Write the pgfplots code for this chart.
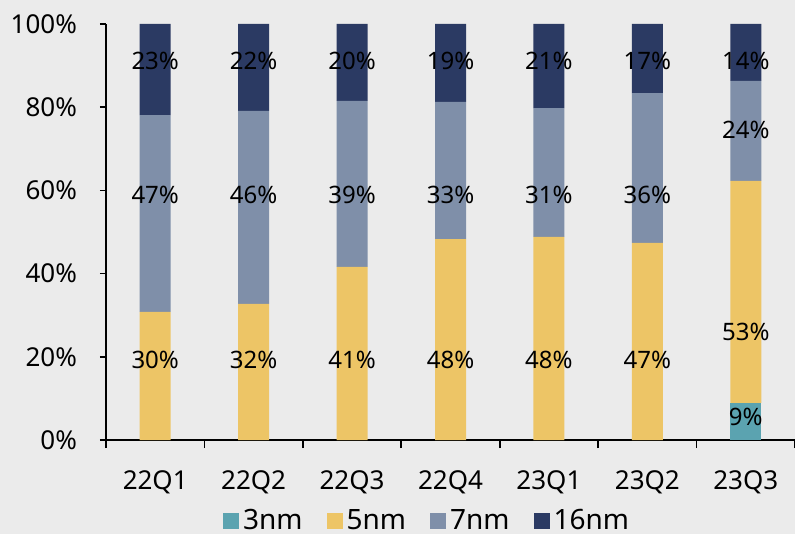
\documentclass[border=0pt]{standalone}
\usepackage{pgfplots}
\pgfplotsset{compat=1.18}
\usepackage{fontspec}
\setmainfont{Noto Sans}
\definecolor{bgc}{HTML}{EBEBEB}
\definecolor{cA}{HTML}{5BA3B0}
\definecolor{cB}{HTML}{EDC566}
\definecolor{cC}{HTML}{7F8FA9}
\definecolor{cD}{HTML}{2B3A63}
\begin{document}
\begin{tikzpicture}
\fill[bgc] (-53pt,-47pt) rectangle (344.5pt,220pt);
\begin{axis}[
  scale only axis, width=344.5pt, height=208pt,
  ybar stacked, bar width=15.5pt,
  xmin=-0.5, xmax=6.5, ymin=0, ymax=100,
  axis x line=bottom, axis y line=left,
  axis line style={-, line width=0.8pt, black},
  xtick={0,...,6},
  xticklabels={22Q1,22Q2,22Q3,22Q4,23Q1,23Q2,23Q3},
  minor xtick={-0.5,0.5,...,6.5},
  ytick={0,20,...,100},
  yticklabel={\pgfmathprintnumber{\tick}\%},
  tick align=outside,
  major tick length=3pt, minor tick length=4pt,
  major x tick style={draw=none},
  minor x tick style={line width=0.8pt, black},
  major y tick style={line width=0.8pt, black},
  /pgf/number format/assume math mode=true,
  ticklabel style={font=\fontsize{13}{15}\selectfont},
  xticklabel style={yshift=-9pt},
  yticklabel style={xshift=-8pt},
  legend columns=4,
  legend style={at={(axis description cs:0.466,-0.195)}, anchor=center, draw=none, fill=none,
    font=\fontsize{14}{16}\selectfont, column sep=1pt,
    /tikz/every even column/.append style={column sep=11pt},
    nodes={inner sep=1pt}},
  legend image code/.code={\fill[#1] (0pt,-4pt) rectangle (8pt,4pt);},
]
\addplot[fill=cA, draw=none] coordinates {(0,0) (1,0) (2,0) (3,0) (4,0) (5,0) (6,8.9)};
\addplot[fill=cB, draw=none] coordinates {(0,30.8) (1,32.7) (2,41.6) (3,48.3) (4,48.8) (5,47.4) (6,53.4)};
\addplot[fill=cC, draw=none] coordinates {(0,47.3) (1,46.4) (2,39.9) (3,33.0) (4,31.0) (5,36.0) (6,24.0)};
\addplot[fill=cD, draw=none] coordinates {(0,21.9) (1,20.9) (2,18.5) (3,18.7) (4,20.2) (5,16.6) (6,13.7)};
\legend{3nm,5nm,7nm,16nm}
\end{axis}
\begin{axis}[
  scale only axis, width=344.5pt, height=208pt,
  xmin=-0.5, xmax=6.5, ymin=0, ymax=100,
  hide axis,
]
\addplot[draw=none, mark=none, nodes near coords={\pgfplotspointmeta\%},
  point meta=explicit symbolic,
  nodes near coords style={anchor=center, font=\fontsize{12}{14}\selectfont, black}]
  table[meta=lab] {
x y lab
0 91.1 23
0 58.9 47
0 19.2 30
1 91.1 22
1 58.9 46
1 19.2 32
2 91.1 20
2 58.9 39
2 19.2 41
3 91.1 19
3 58.9 33
3 19.2 48
4 91.1 21
4 58.9 31
4 19.2 48
5 91.1 17
5 58.9 36
5 19.2 47
6 91.1 14
6 74.5 24
6 26.0 53
6 5.6 9
};
\end{axis}
\pgfresetboundingbox
\useasboundingbox (-53pt,-47pt) rectangle (344.5pt,220pt);
\end{tikzpicture}
\end{document}
